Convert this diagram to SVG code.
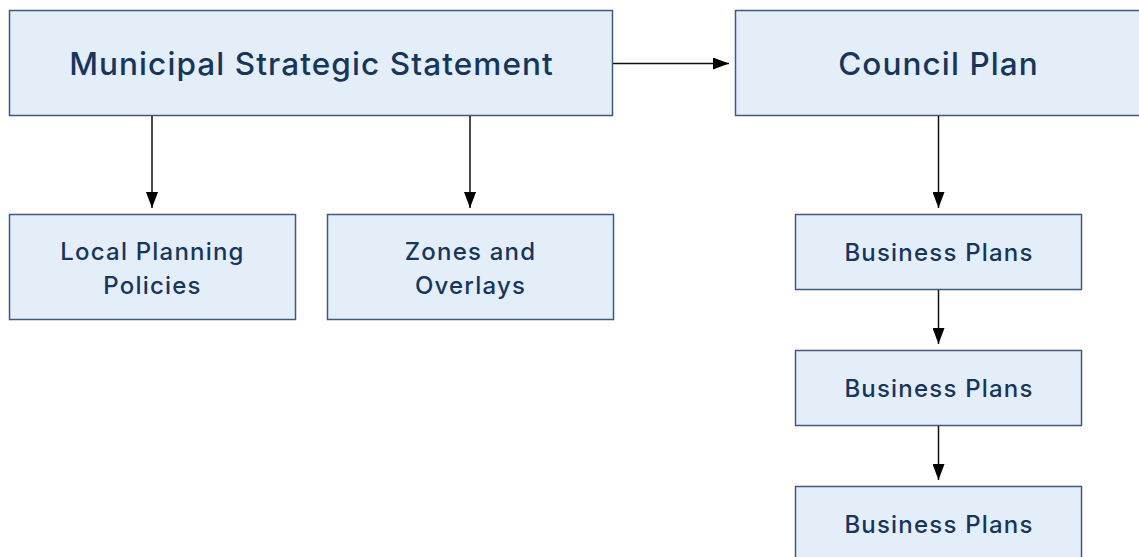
<svg xmlns="http://www.w3.org/2000/svg" width="1139" height="557" viewBox="0 0 1139 557">
  <style>
    .box { fill: #e4eef9; stroke: #3d5a80; stroke-width: 1.5; }
    .lbl { font-family: Inter, "Liberation Sans", sans-serif; font-weight: 500; fill: #17365d; text-anchor: middle; }
    .big { font-size: 31.5px; letter-spacing: 1.1px; }
    .small { font-size: 24px; letter-spacing: 1.2px; }
    .wire { stroke: #111; stroke-width: 1.5; fill: none; marker-end: url(#head); }
  </style>
  <defs>
    <marker id="head" markerUnits="userSpaceOnUse" markerWidth="17" markerHeight="12" refX="16" refY="6" orient="auto">
      <path d="M0,0 L16,6 L0,12 Z" fill="#000"/>
    </marker>
  </defs>
  <rect width="1139" height="557" fill="#fff"/>

  <g id="mss">
    <rect class="box" x="9.5" y="10.5" width="603" height="105"/>
    <text class="lbl big" x="311.5" y="75">Municipal Strategic Statement</text>
  </g>
  <g id="council-plan">
    <rect class="box" x="735.5" y="10.5" width="406" height="105"/>
    <text class="lbl big" x="938.5" y="75">Council Plan</text>
  </g>
  <g id="local-planning-policies">
    <rect class="box" x="9.5" y="214.5" width="286" height="105"/>
    <text class="lbl small" x="152.5" y="260">Local Planning</text>
    <text class="lbl small" x="152.5" y="293.5">Policies</text>
  </g>
  <g id="zones-overlays">
    <rect class="box" x="327.5" y="214.5" width="286" height="105"/>
    <text class="lbl small" x="470.5" y="260">Zones and</text>
    <text class="lbl small" x="470.5" y="293.5">Overlays</text>
  </g>
  <g id="business-plans-1">
    <rect class="box" x="795.5" y="214.5" width="286" height="75"/>
    <text class="lbl small" x="939" y="261">Business Plans</text>
  </g>
  <g id="business-plans-2">
    <rect class="box" x="795.5" y="350.5" width="286" height="75"/>
    <text class="lbl small" x="939" y="397">Business Plans</text>
  </g>
  <g id="business-plans-3">
    <rect class="box" x="795.5" y="486.5" width="286" height="75"/>
    <text class="lbl small" x="939" y="533">Business Plans</text>
  </g>

  <g id="connectors">
    <line class="wire" x1="613" y1="63.5" x2="729" y2="63.5"/>
    <line class="wire" x1="152" y1="116" x2="152" y2="208"/>
    <line class="wire" x1="470" y1="116" x2="470" y2="208"/>
    <line class="wire" x1="938.5" y1="116" x2="938.5" y2="208"/>
    <line class="wire" x1="938.5" y1="290" x2="938.5" y2="344"/>
    <line class="wire" x1="938.5" y1="426" x2="938.5" y2="480"/>
  </g>
</svg>
